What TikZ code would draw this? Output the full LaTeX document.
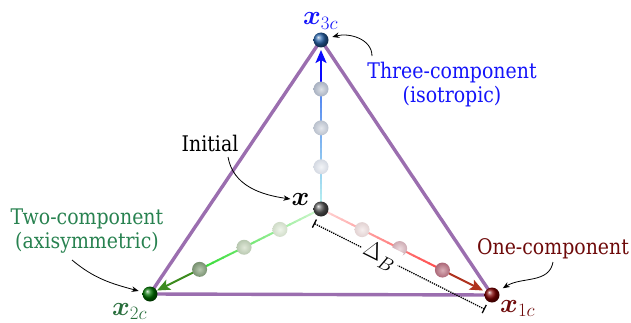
\RequirePackage{fix-cm}
\documentclass[tikz,border=0pt]{standalone}
\usepackage{amsmath,bm}
\usepackage{fontspec}
\setmainfont{DejaVu Serif}[FakeStretch=0.88]
\usetikzlibrary{calc,arrows.meta}
\definecolor{tricol}{RGB}{155,110,175}
\definecolor{tblue}{RGB}{20,20,250}
\definecolor{tgreen}{RGB}{40,130,80}
\definecolor{tred}{RGB}{110,10,10}
\definecolor{xgreen}{RGB}{40,110,60}
\definecolor{bstart}{RGB}{190,248,240}
\definecolor{bmid}{RGB}{80,130,240}
\definecolor{bend}{RGB}{10,10,255}
\definecolor{gstart}{RGB}{215,248,215}
\definecolor{gmid}{RGB}{50,220,50}
\definecolor{gend}{RGB}{60,140,30}
\definecolor{rstart}{RGB}{255,220,220}
\definecolor{rmid}{RGB}{255,70,70}
\definecolor{rend}{RGB}{175,50,30}
\newcommand\gradseg[4]{%
\foreach \k in {1,...,24}{%
 \pgfmathsetmacro\ta{(\k-1)*0.03}%
 \pgfmathsetmacro\tb{\k*0.03+0.004}%
 \pgfmathsetmacro\pc{100*\k/24}%
 \draw[line width=2pt, color=#4!\pc!#3] ($(#1)!\ta!(#2)$) -- ($(#1)!\tb!(#2)$);}}
\tikzset{
 trisides/.style={draw=tricol, line width=3.4pt, line join=round},
 vball/.style={circle, minimum size=15pt, inner sep=0pt, shading=ball},
 pball/.style={circle, minimum size=15pt, inner sep=0pt, shading=radial},
 lab/.style={font=\fontsize{21.5}{24}\selectfont, align=center},
 mlab/.style={font=\fontsize{27}{30}\selectfont, inner sep=1pt},
 callout/.style={-{Stealth[length=7pt,width=5.5pt]}, line width=0.8pt},
 dirarrow/.style={-{Stealth[length=13pt,width=11pt,inset=3pt]}, line width=2pt},
}
\begin{document}
\begin{tikzpicture}[x=1pt,y=1pt]
\useasboundingbox (0,0) rectangle (631,322);
\coordinate (T) at (321,282);
\coordinate (L) at (150,28);
\coordinate (R) at (492,27);
\coordinate (C) at (321,113);
\coordinate (tT) at (321,272);
\coordinate (tL) at (157,31.5);
\coordinate (tR) at (483,31.5);
% triangle
\draw[trisides] (T) -- (L) -- (R) -- cycle;
% gradient lines
\gradseg{C}{T}{bstart}{bmid}
\gradseg{C}{L}{gstart}{gmid}
\gradseg{C}{R}{rstart}{rmid}
\draw[dirarrow, color=bend] ($(C)!0.71!(T)$) -- (tT);
\draw[dirarrow, color=gend] ($(C)!0.71!(L)$) -- (tL);
\draw[dirarrow, color=rend] ($(C)!0.71!(R)$) -- (tR);
% intermediate balls
\node[pball, inner color={rgb,255:red,242;green,244;blue,247}, outer color={rgb,255:red,212;green,217;blue,226}] (t1) at ($(C)!0.25!(T)$) {};
\node[pball, inner color={rgb,255:red,228;green,231;blue,236}, outer color={rgb,255:red,186;green,193;blue,205}] (t2) at ($(C)!0.48!(T)$) {};
\node[pball, inner color={rgb,255:red,220;green,224;blue,230}, outer color={rgb,255:red,168;green,177;blue,193}] (t3) at ($(C)!0.71!(T)$) {};
\node[pball, inner color={rgb,255:red,238;green,244;blue,234}, outer color={rgb,255:red,208;green,220;blue,200}] (l1) at ($(C)!0.24!(L)$) {};
\node[pball, inner color={rgb,255:red,224;green,232;blue,216}, outer color={rgb,255:red,184;green,200;blue,176}] (l2) at ($(C)!0.45!(L)$) {};
\node[pball, inner color={rgb,255:red,184;green,200;blue,176}, outer color={rgb,255:red,120;green,145;blue,112}] (l3) at ($(C)!0.71!(L)$) {};
\node[pball, inner color={rgb,255:red,246;green,238;blue,238}, outer color={rgb,255:red,226;green,210;blue,210}] (r1) at ($(C)!0.24!(R)$) {};
\node[pball, inner color={rgb,255:red,236;green,218;blue,222}, outer color={rgb,255:red,206;green,172;blue,180}] (r2) at ($(C)!0.46!(R)$) {};
\node[pball, inner color={rgb,255:red,218;green,176;blue,184}, outer color={rgb,255:red,172;green,104;blue,120}] (r3) at ($(C)!0.71!(R)$) {};
% vertex balls
\node[vball, ball color={rgb,255:red,40;green,100;blue,170}] (bT) at (T) {};
\node[vball, ball color=green!45!black] (bL) at (L) {};
\node[vball, ball color=red!50!black] (bR) at (R) {};
\node[vball, ball color=black!65] (bC) at (C) {};
% dimension line
\coordinate (d1) at ($(C)!16pt!-90:(R)$);
\coordinate (d2) at ($(R)!16pt!90:(C)$);
\draw[densely dotted, line width=1.3pt, {Bar[width=9pt,line width=1.3pt]}-{Bar[width=9pt,line width=1.3pt]}] (d1) -- node[pos=0.385, sloped, fill=white, inner sep=3pt, font=\fontsize{24}{28}\selectfont] (dl) {$\Delta_{\text{\fontsize{19}{21}\selectfont$B$}}$} (d2);
% labels
\node[lab, text=tblue] (three) at (452,237) {Three-component\\(isotropic)};
\node[lab, text=tgreen] (two) at (87,91) {Two-component\\(axisymmetric)};
\node[lab, text=tred] (one) at (553,73) {One-component};
\node[lab] (init) at (210,179) {Initial};
\node[mlab] (xlab) at (300.5,123) {$\bm{x}$};
\node[mlab, text=tblue, anchor=base west] (x3) at (302,297) {$\bm{x}_{3c}$};
\node[mlab, text=xgreen, anchor=base west] (x2) at (111,7) {$\bm{x}_{2c}$};
\node[mlab, text=tred, anchor=base west] (x1) at (499,10) {$\bm{x}_{1c}$};
% callouts
\coordinate (s3) at (372,266);
\coordinate (si) at (228,165);
\coordinate (s2) at (72,62);
\coordinate (s1) at (553,60);
\draw[callout] (s3) to[out=90,in=15] ([shift={(15:4pt)}]bT.15);
\draw[callout] (si) to[out=-80,in=172] (xlab.west);
\draw[callout] (s2) to[out=-40,in=165] ([shift={(165:4pt)}]bL.165);
\draw[callout] (s1) to[out=-100,in=32] ([shift={(32:5pt)}]bR.32);
\end{tikzpicture}
\end{document}
